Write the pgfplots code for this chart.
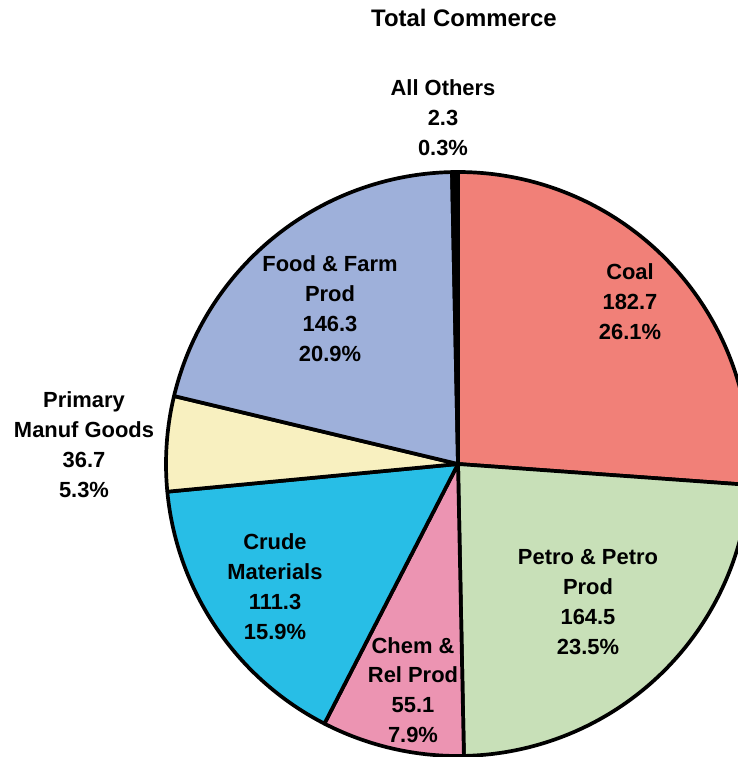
\documentclass[border=0pt]{standalone}
\usepackage{pgfplots}
\pgfplotsset{compat=1.18}
\usepackage{fontspec}
\setmainfont{Liberation Sans}

\definecolor{coal}{HTML}{F18078}
\definecolor{petro}{HTML}{C8E0B8}
\definecolor{chem}{HTML}{EC94B2}
\definecolor{crude}{HTML}{28BEE6}
\definecolor{manuf}{HTML}{F8F0C0}
\definecolor{food}{HTML}{9EB0DA}

\begin{document}
\begin{tikzpicture}
% slice values, clockwise from 12 o'clock
\def\vCoal{182.7}
\def\vPetro{164.5}
\def\vChem{55.1}
\def\vCrude{111.3}
\def\vManuf{36.7}
\def\vFood{146.3}
\def\vOther{2.3}
\pgfmathsetmacro\tot{\vCoal+\vPetro+\vChem+\vCrude+\vManuf+\vFood+\vOther}
\pgfmathsetmacro\aA{90}
\pgfmathsetmacro\aB{\aA-(\vCoal/\tot)*360}
\pgfmathsetmacro\aC{\aB-(\vPetro/\tot)*360}
\pgfmathsetmacro\aD{\aC-(\vChem/\tot)*360}
\pgfmathsetmacro\aE{\aD-(\vCrude/\tot)*360}
\pgfmathsetmacro\aF{\aE-(\vManuf/\tot)*360}
\pgfmathsetmacro\aG{\aF-(\vFood/\tot)*360}
\pgfmathsetmacro\aH{\aG-(\vOther/\tot)*360}
\def\R{292}
\begin{axis}[
    width=738bp, height=757bp, scale only axis,
    xmin=-458, xmax=280, ymin=-293, ymax=464,
    hide axis,
    samples=120,
    every axis plot/.style={draw=black, line width=3.7bp, line join=round},
  ]
  \addplot[fill=coal,  domain=\aB:\aA] ({\R*cos(x)},{\R*sin(x)}) -- (axis cs:0,0) -- cycle;
  \addplot[fill=petro, domain=\aC:\aB] ({\R*cos(x)},{\R*sin(x)}) -- (axis cs:0,0) -- cycle;
  \addplot[fill=chem,  domain=\aD:\aC] ({\R*cos(x)},{\R*sin(x)}) -- (axis cs:0,0) -- cycle;
  \addplot[fill=crude, domain=\aE:\aD] ({\R*cos(x)},{\R*sin(x)}) -- (axis cs:0,0) -- cycle;
  \addplot[fill=manuf, domain=\aF:\aE] ({\R*cos(x)},{\R*sin(x)}) -- (axis cs:0,0) -- cycle;
  \addplot[fill=food,  domain=\aG:\aF] ({\R*cos(x)},{\R*sin(x)}) -- (axis cs:0,0) -- cycle;
  \addplot[fill=black, domain=\aH:\aG, samples=5] ({\R*cos(x)},{\R*sin(x)}) -- (axis cs:0,0) -- cycle;

  \begin{scope}[every node/.style={align=center, font=\fontsize{22}{30}\selectfont\bfseries}]
  \node at (axis cs:6,446) {\fontsize{24}{26}\selectfont\bfseries Total Commerce};
  \node at (axis cs:-15,346) {All Others\\2.3\\0.3\%};
  \node at (axis cs:172,162) {Coal\\182.7\\26.1\%};
  \node at (axis cs:-128,155) {Food \& Farm\\Prod\\146.3\\20.9\%};
  \node at (axis cs:-374,19) {Primary\\Manuf Goods\\36.7\\5.3\%};
  \node at (axis cs:-183,-123) {Crude\\Materials\\111.3\\15.9\%};
  \node at (axis cs:130,-138) {Petro \& Petro\\Prod\\164.5\\23.5\%};
  \node at (axis cs:-45,-226) {Chem \&\\Rel Prod\\55.1\\7.9\%};
  \end{scope}
  \coordinate (bl) at (rel axis cs:0,0);
  \coordinate (tr) at (rel axis cs:1,1);
\end{axis}
\pgfresetboundingbox
\path[use as bounding box] (bl) rectangle (tr);
\end{tikzpicture}
\end{document}
